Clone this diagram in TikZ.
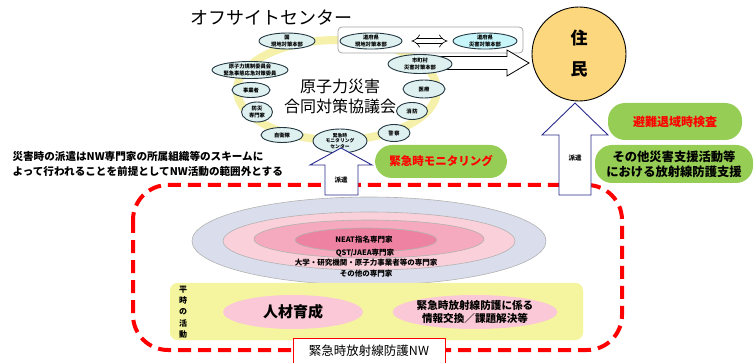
\documentclass[tikz,border=0pt]{standalone}
\usepackage{fontspec}
\setmainfont{Noto Sans CJK JP}
\usetikzlibrary{shapes.geometric,arrows.meta}

\definecolor{orgfill}{RGB}{222,240,240}
\definecolor{orgline}{RGB}{35,55,65}
\definecolor{prefill}{RGB}{200,245,250}
\definecolor{ringcol}{RGB}{245,240,170}
\definecolor{greenbg}{RGB}{150,205,85}
\definecolor{resfill}{RGB}{252,215,125}
\definecolor{lvA}{RGB}{218,222,236}
\definecolor{lvB}{RGB}{250,208,218}
\definecolor{lvC}{RGB}{245,170,192}
\definecolor{lvD}{RGB}{238,130,162}
\definecolor{calmbg}{RGB}{245,245,160}
\definecolor{pinkbg}{RGB}{250,200,215}
\definecolor{displine}{RGB}{40,40,140}

\tikzset{
  org/.style={ellipse, draw=orgline, fill=orgfill, line width=0.9pt, inner sep=0pt,
    align=center, font=\fontsize{5.3}{6.3}\selectfont\bfseries},
  greenbox/.style={rectangle, rounded corners=17pt, fill=greenbg, inner sep=0pt,
    align=center},
  hollow/.style={draw=displine, fill=white, line width=0.9pt},
  level/.style={draw=gray!60, line width=0.6pt},
  lvtext/.style={font=\fontsize{7.5}{8}\selectfont\bfseries},
  pinkell/.style={ellipse, fill=pinkbg, inner sep=0pt, align=center}
}

\begin{document}
\begin{tikzpicture}[x=1pt,y=-1pt]
\useasboundingbox (0,0) rectangle (754,363);

% off-site centre
\node[font=\fontsize{18}{20}\selectfont] (title) at (271,18) {オフサイトセンター};
\draw[ringcol, line width=8pt] (337,90) ellipse [x radius=100, y radius=50];
\draw[gray!70, rounded corners=4pt, fill=white, line width=0.8pt] (338,27) rectangle (523,53);
\draw[fill=white, line width=0.8pt] (440,56.5) -- (507,56.5) -- (507,50) -- (529,63)
  -- (507,76) -- (507,69.5) -- (440,69.5) -- cycle;

\node[org, minimum width=56, minimum height=16] (kuni) at (287,41) {国\\現地対策本部};
\node[org, minimum width=62, minimum height=16] (prefA) at (371,41) {道府県\\現地対策本部};
\node[org, fill=prefill, minimum width=64, minimum height=16] (prefB) at (485,41) {道府県\\災害対策本部};
\node[org, minimum width=76, minimum height=17] (nra) at (250,70) {原子力規制委員会\\緊急事態応急対策委員};
\node[org, minimum width=64, minimum height=19] (city) at (420,64) {市町村\\災害対策本部};
\node[org, minimum width=38, minimum height=15] (oper) at (251,90) {事業者};
\node[org, minimum width=31, minimum height=20] (expt) at (257,112) {防災\\専門家};
\node[org, minimum width=42, minimum height=15] (sdf) at (282,135) {自衛隊};
\node[org, minimum width=54, minimum height=24, font=\fontsize{4.8}{5.4}\selectfont\bfseries] (emc) at (340,141) {緊急時\\モニタリング\\センター};
\node[org, minimum width=32, minimum height=17] (police) at (394,133) {警\,察};
\node[org, minimum width=31, minimum height=17] (fire) at (412,111) {消\,防};
\node[org, minimum width=42, minimum height=18] (med) at (424,89) {医療};

\node[align=center, font=\fontsize{16}{20}\selectfont] (council) at (340,96) {原子力災害\\合同対策協議会};
\draw[double, double distance=4pt, line width=0.6pt, {Implies}-{Implies}, shorten <=9pt, shorten >=5pt] (prefA) -- (prefB);

% residents
\node[circle, draw, fill=resfill, line width=0.9pt, minimum size=94, align=center,
  font=\fontsize{17}{31}\selectfont\bfseries] (jumin) at (579,54) {住\\民};

% left note
\node[anchor=west, align=left, font=\fontsize{10.6}{15}\selectfont\bfseries] (note) at (9,164)
  {災害時の派遣はNW専門家の所属組織等のスキームに\\よって行われることを前提としてNW活動の範囲外とする};

% green boxes
\node[greenbox, minimum width=132, minimum height=33, text=red,
  font=\fontsize{11.5}{13}\selectfont\bfseries] (mon) at (441,161.5) {緊急時モニタリング};
\node[greenbox, minimum width=134, minimum height=37, text=red,
  font=\fontsize{12}{14}\selectfont\bfseries] (scr) at (675,121.5) {避難退域時検査};
\node[greenbox, minimum width=158, minimum height=38,
  font=\fontsize{12.3}{15}\selectfont\bfseries] (sup) at (674,164) {その他災害支援活動等\\における放射線防護支援};

% network
\draw[red, line width=4pt, dash pattern=on 13pt off 7pt, rounded corners=35pt] (133,185) rectangle (622,350);

\draw[level, fill=lvA] (369,241) ellipse [x radius=177, y radius=44];
\draw[level, fill=lvB] (369,241) ellipse [x radius=146, y radius=29];
\draw[level, fill=lvC] (369,239) ellipse [x radius=115, y radius=19];
\draw[level, fill=lvD] (366,240) ellipse [x radius=71, y radius=12];
\node[lvtext] (neat) at (364,240) {NEAT指名専門家};
\node[lvtext] (qst) at (365,253) {QST/JAEA専門家};
\node[lvtext] (univ) at (366,263) {大学・研究機関・原子力事業者等の専門家};
\node[lvtext] (other) at (366,274) {その他の専門家};

\draw[calmbg, fill=calmbg, rounded corners=8pt] (170,283) rectangle (583,340);
\node[align=center, font=\fontsize{8}{11.3}\selectfont\bfseries] (calm) at (183,312) {平\\時\\の\\活\\動};
\node[pinkell, minimum width=140, minimum height=34, font=\fontsize{15}{17}\selectfont\bfseries] (train) at (293,312) {人材育成};
\node[pinkell, minimum width=154, minimum height=34, font=\fontsize{10.6}{13}\selectfont\bfseries] (info) at (475,312)
  {緊急時放射線防護に係る\\情報交換／課題解決等};

\node[draw=red, fill=white, line width=0.8pt, minimum width=152, minimum height=25,
  font=\fontsize{12.5}{14}\selectfont] (nw) at (369,350.5) {緊急時放射線防護NW};

% dispatch arrows
\draw[hollow] (325,195) -- (325,165) -- (310,165) -- (341,148) -- (372,165) -- (358,165) -- (358,195) -- cycle;
\draw[hollow] (559,195) -- (559,135) -- (542,135) -- (575,103) -- (608,135) -- (591,135) -- (591,195) -- cycle;
\node[font=\fontsize{6.5}{7}\selectfont\bfseries] (dispA) at (341,180) {派遣};
\node[font=\fontsize{6.5}{7}\selectfont\bfseries] (dispB) at (575,158) {派遣};
\end{tikzpicture}
\end{document}
